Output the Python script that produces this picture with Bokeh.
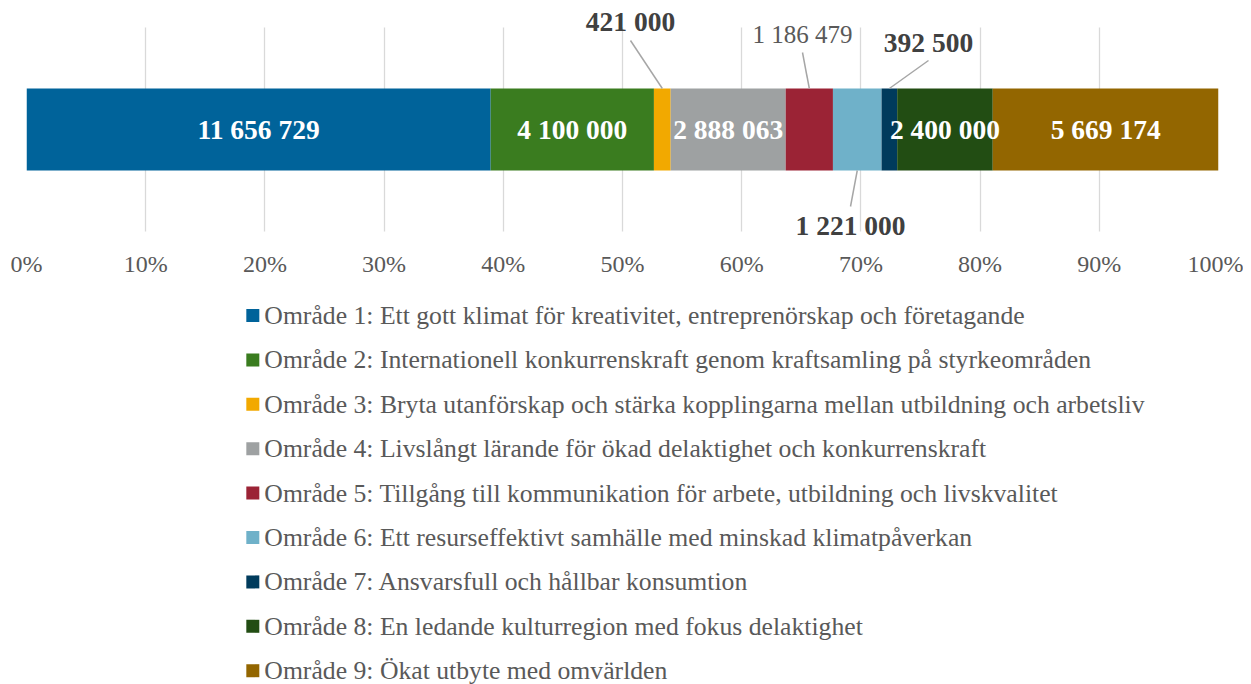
from bokeh.plotting import figure
from bokeh.models import ColumnDataSource, Range1d, FixedTicker, NumeralTickFormatter
from bokeh.layouts import column
from bokeh.embed import file_html
from bokeh.resources import INLINE
from bokeh.core.properties import value

# ---------------- data ----------------
areas = [
    "Område 1: Ett gott klimat för kreativitet, entreprenörskap och företagande",
    "Område 2: Internationell konkurrenskraft genom kraftsamling på styrkeområden",
    "Område 3: Bryta utanförskap och stärka kopplingarna mellan utbildning och arbetsliv",
    "Område 4: Livslångt lärande för ökad delaktighet och konkurrenskraft",
    "Område 5: Tillgång till kommunikation för arbete, utbildning och livskvalitet",
    "Område 6: Ett resurseffektivt samhälle med minskad klimatpåverkan",
    "Område 7: Ansvarsfull och hållbar konsumtion",
    "Område 8: En ledande kulturregion med fokus delaktighet",
    "Område 9: Ökat utbyte med omvärlden",
]
amounts = [11656729, 4100000, 421000, 2888063, 1186479, 1221000, 392500, 2400000, 5669174]
colors = ["#00639A", "#3A7C1F", "#F2A900", "#9EA1A2", "#9B2335",
          "#6FB1C9", "#003B5C", "#224D13", "#936600"]
pct_ticks = [0.0, 0.1, 0.2, 0.3, 0.4, 0.5, 0.6, 0.7, 0.8, 0.9, 1.0]

# which segments carry their label inside the bar
inside_idx = [0, 1, 3, 7, 8]

# ---------------- derived ----------------
total = float(sum(amounts))
fracs = [a / total for a in amounts]
lefts, rights = [], []
acc = 0.0
for f in fracs:
    lefts.append(acc)
    acc += f
    rights.append(acc)
mids = [(l + r) / 2 for l, r in zip(lefts, rights)]
labels = [f"{a:,}".replace(",", " ") for a in amounts]

FONT = value("Liberation Serif")
BAR_H = 82
W = 1243

# ---------------- main figure ----------------
p = figure(width=W, height=298, x_range=Range1d(0, 1), y_range=Range1d(-111, 121),
           output_backend="svg", toolbar_location=None,
           min_border_left=26, min_border_right=W - 26 - 1192, min_border_top=8,
           min_border_bottom=58, y_axis_location=None)
p.outline_line_color = None
p.ygrid.visible = False
p.xgrid.grid_line_color = "#D9D9D9"
p.xgrid.grid_line_width = 1.3
p.xgrid.cross_bounds = (-102, 102)

src = ColumnDataSource(dict(left=lefts, right=rights, y=[0] * len(amounts), color=colors))
p.hbar(y="y", left="left", right="right", height=BAR_H, fill_color="color",
       line_color=None, source=src)

# inside labels
p.text(x=[mids[i] for i in inside_idx], y=[0] * len(inside_idx),
       text=[labels[i] for i in inside_idx], text_align="center", text_baseline="middle",
       text_font=FONT, text_font_size="27.5px", text_font_style="bold", text_color="white")

# callouts: (segment index, label x (fraction), label y (px from bar centre), line end y, bold)
callouts = [
    (2, 0.5067, 108, 89, True),
    (4, 0.6510, 95, 77, False),
    (5, 0.6913, -96, -77, True),
    (6, 0.7567, 87, 69, True),
]
for idx, lx, ly, ley, bold in callouts:
    edge = BAR_H / 2 if ly > 0 else -BAR_H / 2
    p.segment(x0=[mids[idx]], y0=[edge], x1=[lx], y1=[ley], line_color="#A6A6A6", line_width=1.5)
    p.text(x=[lx], y=[ly], text=[labels[idx]], text_align="center", text_baseline="middle",
           text_font=FONT, text_font_size="27.5px" if bold else "25px",
           text_font_style="bold" if bold else "normal",
           text_color="#404040" if bold else "#595959")

ax = p.xaxis[0]
ax.ticker = FixedTicker(ticks=pct_ticks)
ax.formatter = NumeralTickFormatter(format="0%")
ax.axis_line_color = None
ax.major_tick_line_color = None
ax.minor_tick_line_color = None
ax.major_tick_out = 0
ax.major_tick_in = 0
ax.major_label_standoff = 10
ax.major_label_text_font = "Liberation Serif"
ax.major_label_text_font_size = "24px"
ax.major_label_text_color = "#595959"

# ---------------- legend figure ----------------
pitch = 44.4
first = 17
lh = 386
idxs = list(range(len(areas)))
top_v = -first / pitch
bot_v = top_v + lh / pitch
lg = figure(width=W, height=lh, x_range=Range1d(0, W), y_range=Range1d(bot_v, top_v),
            output_backend="svg", toolbar_location=None,
            min_border_left=0, min_border_right=0, min_border_top=0, min_border_bottom=0,
            x_axis_location=None, y_axis_location=None)
lg.outline_line_color = None
lg.xgrid.visible = False
lg.ygrid.visible = False
lsrc = ColumnDataSource(dict(y=idxs, name=areas, color=colors))
lg.scatter(x=236, y="y", marker="square", size=13, fill_color="color", line_color=None,
           source=lsrc)
lg.text(x=248, y="y", text="name", text_baseline="middle", text_font=FONT,
        text_font_size="25.7px", text_color="#595959", source=lsrc)

layout = column(p, lg, spacing=0)
open("out.html", "w").write(file_html(layout, INLINE))
